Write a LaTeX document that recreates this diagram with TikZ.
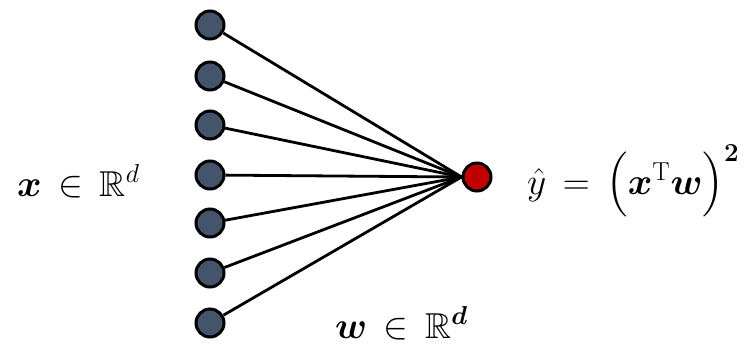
\documentclass[tikz,border=0pt]{standalone}
\usepackage{amsmath,amssymb,bm}
\usepackage{graphicx}
\definecolor{nodeblue}{HTML}{44546A}
\definecolor{nodered}{HTML}{C00000}
\begin{document}
\begin{tikzpicture}[x=1pt,y=-1pt,
  inp/.style={circle,draw=black,line width=3pt,fill=nodeblue,minimum size=28pt,inner sep=0pt},
  outp/.style={circle,draw=black,line width=3pt,fill=nodered,minimum size=28pt,inner sep=0pt},
  conn/.style={line width=2.8pt,black},
  lbl/.style={inner sep=0pt,font=\fontsize{24}{30}\selectfont}]
\useasboundingbox (0,0) rectangle (752,346);
\node[inp] (i1) at (210,25) {};
\node[inp] (i2) at (210,76) {};
\node[inp] (i3) at (210,125) {};
\node[inp] (i4) at (210,175) {};
\node[inp] (i5) at (210,223) {};
\node[inp] (i6) at (210,273) {};
\node[inp] (i7) at (210,323) {};
\node[outp] (o) at (477,177) {};
\foreach \i in {1,...,7} \draw[conn] (i\i) -- (o.west);
\node[lbl,anchor=base west] (x) at (17,196) {\scalebox{1.5}{$\bm{x}\,\in\,\mathbb{R}^{d}$}};
\node[lbl,anchor=base west] (w) at (335,338) {\scalebox{1.5}{$\bm{w}\,\in\,\mathbb{R}^{\bm{d}}$}};
\node[lbl,anchor=base west] (y) at (527,194) {\scalebox{1.5}{$\hat{y}\,=\,\Bigl(\bm{x}^{\mathrm{T}}\bm{w}\Bigr)^{\bm{2}}$}};
\end{tikzpicture}
\end{document}
